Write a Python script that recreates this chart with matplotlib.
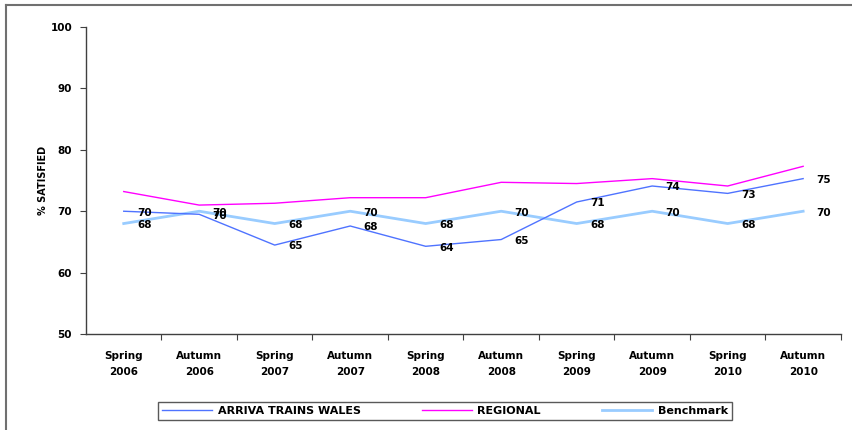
import matplotlib
matplotlib.use("Agg")
import matplotlib.pyplot as plt
from matplotlib.lines import Line2D

categories = ["Spring\n2006", "Autumn\n2006", "Spring\n2007", "Autumn\n2007", "Spring\n2008",
              "Autumn\n2008", "Spring\n2009", "Autumn\n2009", "Spring\n2010", "Autumn\n2010"]
atw = [70.0, 69.5, 64.5, 67.6, 64.3, 65.4, 71.5, 74.1, 72.9, 75.3]
atw_labels = ["70", "70", "65", "68", "64", "65", "71", "74", "73", "75"]
regional = [73.2, 71.0, 71.3, 72.2, 72.2, 74.7, 74.5, 75.3, 74.1, 77.3]
benchmark = [68, 70, 68, 70, 68, 70, 68, 70, 68, 70]
bench_labels = ["68", "70", "68", "70", "68", "70", "68", "70", "68", "70"]
yticks = [50, 60, 70, 80, 90, 100]

c_atw = "#4f73ff"
c_reg = "#ff00ff"
c_bench = "#99ccff"

fig = plt.figure(figsize=(8.53, 4.30), dpi=100)
ax = fig.add_axes([0.1008, 0.2226, 0.885, 0.7154])

x = list(range(len(categories)))
ax.plot(x, benchmark, color=c_bench, lw=2.0, zorder=2)
ax.plot(x, regional, color=c_reg, lw=1.0, zorder=3)
ax.plot(x, atw, color=c_atw, lw=1.0, zorder=4)

for xi, v, t in zip(x, atw, atw_labels):
    ax.annotate(t, (xi, v), xytext=(15, -1), textcoords="offset points",
                ha="center", va="center", fontsize=7.5, fontweight="bold", zorder=5)
for xi, v, t in zip(x, benchmark, bench_labels):
    ax.annotate(t, (xi, v), xytext=(15, -1), textcoords="offset points",
                ha="center", va="center", fontsize=7.5, fontweight="bold", zorder=5)

ax.set_xlim(-0.5, len(categories) - 0.5)
ax.set_ylim(50, 100)
ax.set_yticks(yticks)
ax.set_yticklabels([str(v) for v in yticks], fontsize=7.5, fontweight="bold")
ax.set_xticks([i + 0.5 for i in range(len(categories))])
ax.set_xticklabels([])
ax.set_xticks(x, minor=True)
ax.set_xticklabels(categories, minor=True, fontsize=7.5, fontweight="bold", linespacing=1.7)
ax.tick_params(axis="x", which="minor", length=0, pad=12)
ax.tick_params(axis="x", which="major", length=4, direction="out", color="#404040")
ax.tick_params(axis="y", length=4, direction="out", color="#404040", pad=6)
for s in ["top", "right"]:
    ax.spines[s].set_visible(False)
for s in ["left", "bottom"]:
    ax.spines[s].set_color("#404040")
    ax.spines[s].set_linewidth(1.0)
ax.set_ylabel("% SATISFIED", fontsize=7, fontweight="bold", labelpad=2)

handles = [Line2D([], [], color=c_atw, lw=1.0),
           Line2D([], [], color=c_reg, lw=1.0),
           Line2D([], [], color=c_bench, lw=2.0)]
leg = fig.legend(handles, ["ARRIVA TRAINS WALES", "REGIONAL", "Benchmark"],
                 loc="center", bbox_to_anchor=(445 / 853, 1 - 411 / 430), ncol=3,
                 frameon=True, fancybox=False, edgecolor="#303030",
                 handlelength=4.5, columnspacing=5.5, borderpad=0.35, handletextpad=0.5,
                 prop={"weight": "bold", "size": 8})
leg.get_frame().set_linewidth(1.0)

# figure border (left and top)
fig.add_artist(Line2D([6 / 853, 6 / 853], [0, 1 - 5 / 430], color="#707070", lw=1.5,
                      transform=fig.transFigure))
fig.add_artist(Line2D([6 / 853, 1], [1 - 5 / 430, 1 - 5 / 430], color="#707070", lw=1.5,
                      transform=fig.transFigure))

fig.savefig("out.png", dpi=100)
